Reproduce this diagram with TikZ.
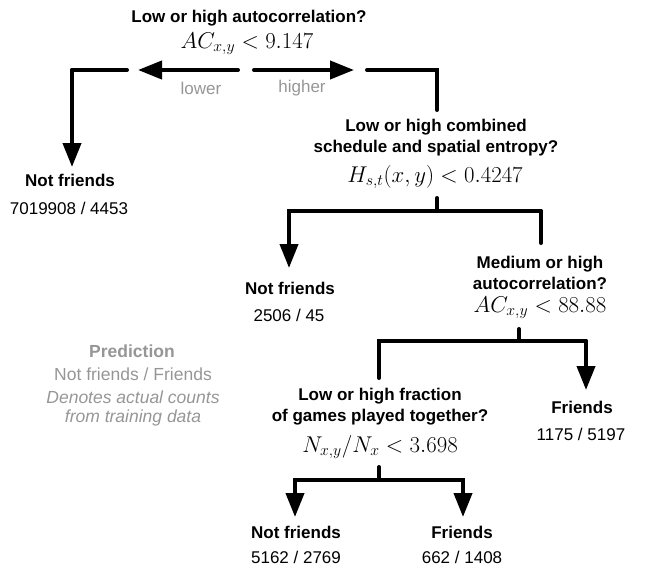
\documentclass[tikz,border=0pt]{standalone}
\usepackage{graphicx}
\usepackage{fontspec}
\newfontfamily\hv{Liberation Sans}
\usetikzlibrary{arrows.meta}
\definecolor{lbl}{RGB}{150,150,150}
\newcommand{\mymath}[1]{\scalebox{1.1}{$#1$}}
\begin{document}
\begin{tikzpicture}[x=1pt,y=-1pt,
  qtext/.style={font=\hv\bfseries\fontsize{17}{21}\selectfont, align=center, inner sep=0pt},
  mth/.style={font=\fontsize{20.74}{25}\selectfont, inner sep=0pt},
  leaf/.style={font=\hv\bfseries\fontsize{17}{20}\selectfont, inner sep=0pt},
  cnt/.style={font=\hv\fontsize{17}{20}\selectfont, inner sep=0pt},
  gry/.style={font=\hv\fontsize{17}{20}\selectfont, text=lbl, inner sep=0pt},
  leg/.style={text=lbl, inner sep=0pt},
  br/.style={line width=4pt, line cap=round, line join=miter},
  arr/.style={br, -{Triangle[length=24pt,width=18pt]}},
]
\useasboundingbox (0,0) rectangle (652,567);

% root question
\node[qtext] (q1t) at (249,18) {Low or high autocorrelation?};
\node[mth] (q1m) at (247,44) {\mymath{AC_{x,y} < 9.147}};
\node[gry] (lo) at (201,88) {lower};
\node[gry] (hi) at (302,88) {higher};

\coordinate (c1l) at (72,70);
\coordinate (c1a) at (127,70);
\coordinate (a1s) at (238,70);
\coordinate (a1e) at (138,70);
\coordinate (a2s) at (254,70);
\coordinate (a2e) at (354,70);
\coordinate (c1b) at (367,70);
\coordinate (c1r) at (437,70);
\coordinate (c1d) at (437,110);
\coordinate (t1) at (72,167);

\draw[br] (c1a) -- (c1l);
\draw[arr] (c1l) -- (t1);
\draw[arr] (a1s) -- (a1e);
\draw[arr] (a2s) -- (a2e);
\draw[br] (c1b) -- (c1r) -- (c1d);

\node[leaf] (l1) at (70,180) {Not friends};
\node[cnt] (l1c) at (69,208) {7019908 / 4453};

% second question
\node[qtext] (q2t) at (436,137.5) {Low or high combined\\schedule and spatial entropy?};
\node[mth] (q2m) at (435,177) {\mymath{H_{s,t}(x,y) < 0.4247}};

\coordinate (s2) at (437,198);
\coordinate (j2) at (437,211);
\coordinate (c2l) at (289,211);
\coordinate (c2r) at (541,211);
\coordinate (e2r) at (541,243);
\coordinate (t2) at (289,268);
\draw[br] (s2) -- (j2);
\draw[arr] (c2r) -- (c2l) -- (t2);
\draw[br] (c2r) -- (e2r);

\node[leaf] (l2) at (290,288) {Not friends};
\node[cnt] (l2c) at (289,315) {2506 / 45};

% third question
\node[qtext] (q3t) at (540,272.5) {Medium or high\\autocorrelation?};
\node[mth] (q3m) at (540,308) {\mymath{AC_{x,y} < 88.88}};

\coordinate (s3) at (519,329);
\coordinate (j3) at (519,341);
\coordinate (c3l) at (379,341);
\coordinate (c3r) at (586,341);
\coordinate (e3l) at (379,378);
\coordinate (t3) at (586,390);
\draw[br] (s3) -- (j3);
\draw[br] (e3l) -- (c3l) -- (c3r);
\draw[arr] (c3r) -- (t3);

\node[leaf] (l3) at (582,407) {Friends};
\node[cnt] (l3c) at (581,434) {1175 / 5197};

% fourth question
\node[qtext] (q4t) at (380,407) {Low or high fraction\\of games played together?};
\node[mth] (q4m) at (380,447) {\mymath{N_{x,y}/N_x < 3.698}};

\coordinate (s4) at (379,467);
\coordinate (j4) at (379,480);
\coordinate (c4l) at (295,480);
\coordinate (c4r) at (463,480);
\coordinate (t4l) at (295,517);
\coordinate (t4r) at (463,517);
\draw[br] (s4) -- (j4);
\draw[arr] (c4r) -- (c4l) -- (t4l);
\draw[arr] (c4l) -- (c4r) -- (t4r);

\node[leaf] (l4) at (296,532) {Not friends};
\node[cnt] (l4c) at (296,557.5) {5162 / 2769};
\node[leaf] (l5) at (462,532) {Friends};
\node[cnt] (l5c) at (462,557.5) {662 / 1408};

% legend
\node[leg, font=\hv\bfseries\fontsize{17.5}{20}\selectfont] (lg1) at (132,351) {Prediction};
\node[leg, font=\hv\fontsize{17.5}{20}\selectfont] (lg2) at (133,374) {Not friends / Friends};
\node[leg, font=\hv\itshape\fontsize{17.5}{20}\selectfont] (lg3) at (133,397) {Denotes actual counts};
\node[leg, font=\hv\itshape\fontsize{17.5}{20}\selectfont] (lg4) at (133,418) {from training data};
\end{tikzpicture}
\end{document}
